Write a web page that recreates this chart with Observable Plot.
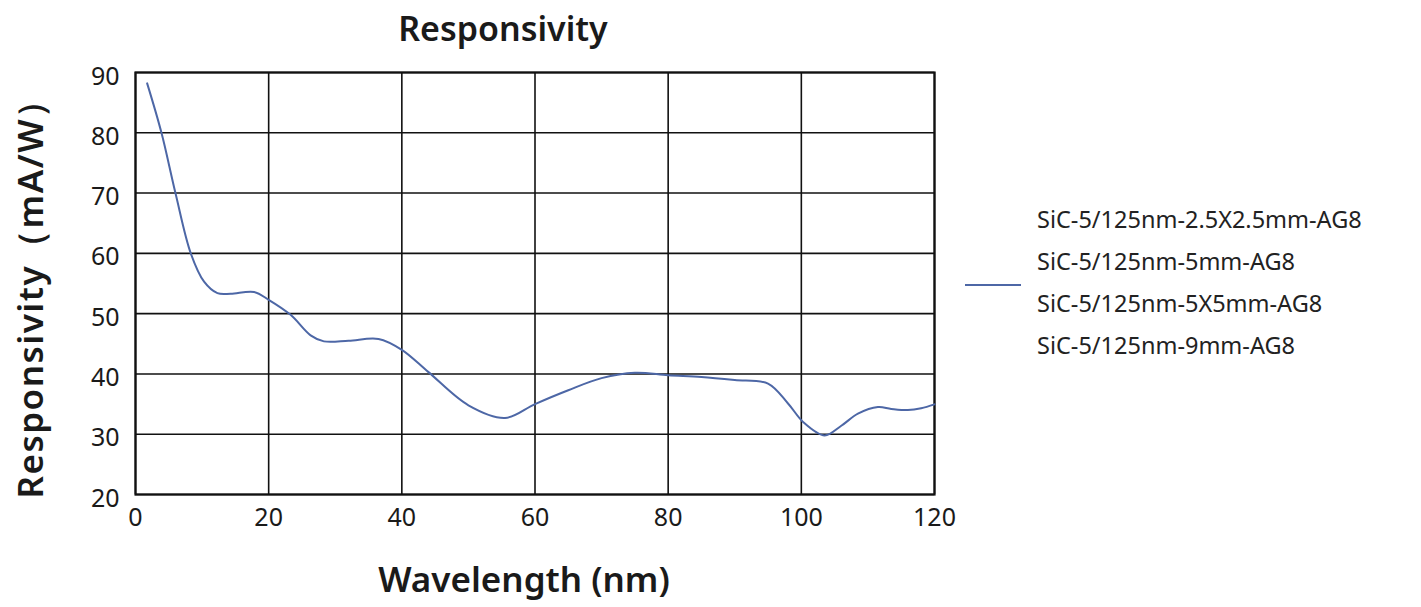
<!DOCTYPE html>
<html>
<head>
<meta charset="utf-8">
<script src="https://cdn.jsdelivr.net/npm/d3@7"></script>
<script src="https://cdn.jsdelivr.net/npm/@observablehq/plot@0.6"></script>
<style>
  html, body { margin: 0; padding: 0; background: #fff; }
  #wrap { position: relative; width: 1421px; height: 607px; font-family: "Noto Sans", "Open Sans", sans-serif; color: #1a1a1a; }
  #title { position: absolute; left: 0; width: 1006px; top: 5px; text-align: center; font-size: 34px; font-weight: 600; }
  #xlabel { position: absolute; left: 0; width: 1048px; top: 555px; text-align: center; font-size: 35px; font-weight: 600; }
  #ylabel { position: absolute; left: 30px; top: 290px; transform: translate(-50%, -50%) rotate(-90deg); white-space: nowrap; font-size: 35px; font-weight: 600; letter-spacing: 1.5px; }
  #legend { position: absolute; left: 965px; top: 198px; }
  #legend .item { font-size: 23.5px; line-height: 42px; margin-left: 72px; color: #222; white-space: nowrap; }
  #legend svg { position: absolute; left: 0; top: 85px; }
  #chart { position: absolute; left: 0; top: 0; }
</style>
</head>
<body>
<div id="wrap">
  <div id="chart"></div>
  <div id="title">Responsivity</div>
  <div id="ylabel">Responsivity（mA/W）</div>
  <div id="xlabel">Wavelength (nm)</div>
  <div id="legend"></div>
</div>
<script>
// Data
const wavelength = [1.75, 3.9, 6.0, 8.3, 10.3, 12.3, 14.3, 17.8, 20, 23.3, 26.3, 28.3, 32, 36.5, 40, 44, 50, 55.5, 60, 65, 70, 75, 80, 85, 90, 95, 98, 100.3, 103.5, 106, 108.5, 111.5, 113.5, 116, 118, 120];
const responsivity = [88.2, 80, 70, 60, 55.3, 53.4, 53.3, 53.6, 52.3, 49.8, 46.4, 45.4, 45.5, 45.8, 44, 40.3, 34.8, 32.7, 35, 37.3, 39.3, 40.2, 39.8, 39.5, 39, 38.4, 35.1, 32, 29.8, 31.4, 33.4, 34.5, 34.2, 34, 34.3, 34.95];
const seriesNames = [
  "SiC-5/125nm-2.5X2.5mm-AG8",
  "SiC-5/125nm-5mm-AG8",
  "SiC-5/125nm-5X5mm-AG8",
  "SiC-5/125nm-9mm-AG8"
];
const xTicks = [0, 20, 40, 60, 80, 100, 120];
const yTicks = [20, 30, 40, 50, 60, 70, 80, 90];
const lineColor = "#4d67a6";

const data = wavelength.map((w, i) => ({ x: w, y: responsivity[i] }));

const chart = Plot.plot({
  width: 1421,
  height: 607,
  marginLeft: 135,
  marginRight: 487,
  marginTop: 72,
  marginBottom: 113,
  style: { fontFamily: "'Noto Sans', 'Open Sans', sans-serif", fontSize: "25px", color: "#1a1a1a", background: "white" },
  x: { domain: [0, 120] },
  y: { domain: [20, 90] },
  marks: [
    Plot.gridX(xTicks, { stroke: "#111", strokeOpacity: 1, strokeWidth: 1.6 }),
    Plot.gridY(yTicks, { stroke: "#111", strokeOpacity: 1, strokeWidth: 1.6 }),
    Plot.frame({ stroke: "#111", strokeWidth: 2.2 }),
    Plot.axisX({ ticks: xTicks, tickSize: 0, tickPadding: 14, label: null, fontSize: 25 }),
    Plot.axisY({ ticks: yTicks, tickSize: 0, tickPadding: 16, label: null, fontSize: 25, dy: 4 }),
    Plot.line(data, { x: "x", y: "y", curve: "catmull-rom", stroke: lineColor, strokeWidth: 2 })
  ]
});
document.getElementById("chart").appendChild(chart);

// Legend
const legend = document.getElementById("legend");
const ns = "http://www.w3.org/2000/svg";
const sw = document.createElementNS(ns, "svg");
sw.setAttribute("width", 60); sw.setAttribute("height", 4);
const ln = document.createElementNS(ns, "line");
ln.setAttribute("x1", 0); ln.setAttribute("x2", 56); ln.setAttribute("y1", 2); ln.setAttribute("y2", 2);
ln.setAttribute("stroke", lineColor); ln.setAttribute("stroke-width", 2);
sw.appendChild(ln);
legend.appendChild(sw);
seriesNames.forEach(n => {
  const d = document.createElement("div");
  d.className = "item";
  d.textContent = n;
  legend.appendChild(d);
});
</script>
</body>
</html>
